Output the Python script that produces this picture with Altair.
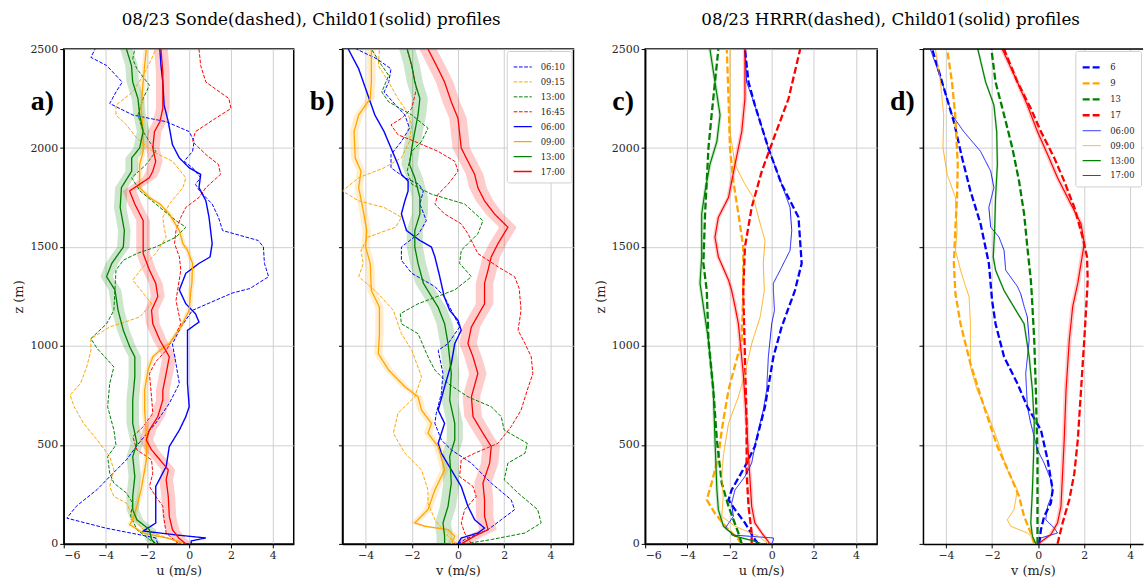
import altair as alt
import pandas as pd

SERIF = "DejaVu Serif"
Z_TICKS = [0, 500, 1000, 1500, 2000, 2500]
U_TICKS = [-6, -4, -2, 0, 2, 4]
V_TICKS = [-4, -2, 0, 2, 4]

# ---------------- panel a : u, sonde (dashed) vs Child01 (solid) ----------------
A_SONDE_0610 = [(0,-1.5),(30,-1.6),(80,-4.0),(130,-5.85),(190,-5.4),(275,-4.4),(340,-3.8),(425,-3.0),(510,-2.4),(610,-1.6),(710,-0.95),(810,-0.47),(910,-0.63),(1010,-0.8),(1095,-0.4),(1180,0.16),(1267,2.05),(1290,2.9),(1350,3.8),(1417,3.6),(1500,3.55),(1533,3.3),(1583,1.6),(1650,1.4),(1717,1.1),(1783,0.5),(1817,0.3),(1850,0.55),(1900,0.16),(1933,-0.24),(1983,0.16),(2033,0.24),(2083,0.0),(2133,-1.1),(2167,-2.7),(2225,-3.8),(2283,-3.5),(2333,-3.2),(2417,-3.95),(2458,-4.7),(2500,-4.5)]
A_SONDE_0915 = [(0,-0.5),(22,-0.8),(72,-2.2),(140,-2.7),(206,-3.0),(240,-3.6),(290,-3.8),(374,-3.6),(441,-3.8),(525,-4.4),(609,-5.05),(693,-5.5),(752,-5.7),(810,-5.2),(894,-4.9),(978,-4.7),(1037,-4.7),(1096,-3.8),(1146,-2.37),(1213,-1.8),(1267,-2.2),(1333,-2.7),(1400,-2.2),(1467,-1.6),(1550,-1.1),(1600,-1.2),(1650,-1.26),(1717,-0.95),(1800,-0.3),(1850,-0.16),(1933,-0.8),(1983,-1.75),(2050,-2.5),(2117,-3.0),(2167,-3.5),(2217,-3.5),(2283,-2.7),(2367,-2.2),(2450,-1.8),(2500,-1.6)]
A_SONDE_1300 = [(0,-1.6),(22,-1.9),(72,-2.5),(140,-2.8),(206,-2.7),(257,-3.0),(307,-3.6),(357,-3.8),(441,-3.9),(500,-3.5),(575,-3.6),(693,-3.9),(810,-3.8),(894,-3.6),(987,-4.4),(1037,-4.7),(1112,-3.95),(1180,-3.6),(1283,-3.55),(1383,-3.5),(1433,-3.15),(1467,-2.5),(1500,-1.6),(1550,-0.63),(1600,-0.16),(1633,-0.63),(1700,-1.4),(1783,-2.35),(1850,-2.75),(1917,-2.05),(1983,-1.6),(2083,-2.2),(2167,-2.45),(2250,-2.2),(2317,-1.9),(2400,-2.5),(2450,-2.7),(2500,-2.6)]
A_SONDE_1645 = [(0,-0.5),(55,-1.1),(122,-1.2),(190,-1.26),(240,-1.6),(290,-1.9),(357,-1.74),(425,-1.8),(475,-2.5),(542,-2.7),(592,-2.2),(660,-1.74),(743,-1.8),(861,-1.9),(920,-1.6),(978,-1.1),(1062,-0.63),(1112,-0.4),(1230,-0.63),(1283,-0.55),(1383,-0.4),(1450,-0.47),(1517,-0.7),(1583,-0.63),(1650,-0.4),(1700,-0.16),(1750,0.47),(1800,0.8),(1867,1.5),(1917,1.4),(1967,0.8),(2033,0.16),(2083,0.3),(2150,1.26),(2200,2.0),(2250,1.9),(2333,0.8),(2417,0.55),(2500,0.47)]
A_CHILD_0600 = [(0,0.1),(15,0.1),(30,0.8),(45,-0.6),(65,-2.2),(105,-1.6),(206,-1.6),(290,-1.6),(391,-1.1),(492,-0.95),(575,-0.47),(643,-0.16),(693,0.0),(810,-0.08),(945,-0.08),(1079,-0.08),(1121,0.47),(1163,0.3),(1213,-0.16),(1283,-0.47),(1367,-0.16),(1417,0.47),(1450,1.0),(1517,1.1),(1650,0.95),(1733,0.8),(1800,0.47),(1867,0.55),(1900,0.0),(1950,-0.47),(2017,-0.8),(2133,-1.0),(2217,-1.2),(2333,-1.26),(2417,-1.35),(2500,-1.4)]
A_CHILD_0900 = [(0,-0.3),(13,-0.5),(30,-1.1),(55,-2.2),(97,-2.84),(122,-2.7),(190,-2.5),(273,-2.3),(374,-2.13),(425,-2.05),(559,-2.05),(676,-2.13),(777,-2.13),(878,-1.97),(945,-1.74),(978,-1.4),(1012,-0.95),(1096,-0.4),(1180,0.0),(1280,0.08),(1317,0.13),(1417,0.16),(1483,-0.08),(1517,-0.3),(1583,-0.47),(1667,-0.95),(1717,-1.4),(1750,-1.9),(1800,-2.37),(1917,-2.37),(1983,-2.2),(2083,-2.2),(2200,-2.3),(2333,-2.2),(2417,-2.13),(2500,-2.05)]
A_CHILD_1300 = [(0,-1.6),(22,-1.8),(72,-1.9),(122,-2.5),(173,-2.7),(240,-2.7),(340,-2.6),(441,-2.7),(508,-2.5),(609,-2.7),(727,-2.7),(844,-2.6),(945,-2.6),(995,-2.84),(1079,-3.15),(1180,-3.4),(1283,-3.55),(1350,-3.95),(1417,-3.7),(1500,-3.15),(1583,-3.1),(1700,-3.3),(1800,-3.24),(1883,-2.75),(1950,-2.75),(2000,-2.37),(2083,-2.2),(2167,-2.37),(2250,-2.45),(2333,-2.7),(2417,-2.76),(2500,-3.0)]
A_CHILD_1700 = [(0,-0.16),(30,-0.5),(72,-0.8),(139,-0.95),(240,-1.0),(324,-1.1),(374,-1.0),(425,-1.4),(475,-1.8),(525,-2.05),(575,-1.9),(643,-1.5),(727,-1.26),(777,-1.26),(861,-1.1),(945,-0.95),(1029,-1.4),(1112,-1.74),(1180,-1.8),(1250,-1.5),(1317,-1.6),(1383,-1.9),(1467,-2.2),(1550,-2.2),(1633,-2.2),(1717,-2.6),(1783,-2.85),(1850,-1.9),(1883,-1.74),(1933,-1.6),(2000,-1.74),(2083,-1.66),(2133,-1.4),(2200,-1.26),(2283,-1.26),(2383,-1.26),(2500,-1.35)]

# ---------------- panel b : v, sonde (dashed) vs Child01 (solid) ----------------
B_SONDE_0610 = [(0,0.0),(22,0.29),(72,1.3),(122,1.87),(173,2.45),(223,2.3),(307,1.44),(408,0.58),(475,-0.29),(525,-0.72),(609,-1.0),(660,-0.94),(760,-0.72),(861,-0.65),(978,-0.86),(1012,-0.43),(1096,0.07),(1146,-0.14),(1213,-0.43),(1250,-0.6),(1300,-1.0),(1367,-2.0),(1433,-2.45),(1500,-2.45),(1567,-1.7),(1633,-1.37),(1717,-1.65),(1783,-1.5),(1817,-1.7),(1850,-2.3),(1900,-2.9),(1967,-2.9),(2033,-2.45),(2100,-2.1),(2167,-2.3),(2217,-2.7),(2283,-3.2),(2333,-3.0),(2400,-2.9),(2450,-3.5),(2500,-4.4)]
B_SONDE_0915 = [(0,-0.07),(39,-0.43),(122,-1.0),(206,-1.3),(273,-1.3),(374,-1.58),(458,-2.3),(559,-2.8),(660,-2.6),(743,-1.87),(844,-1.58),(978,-2.0),(1062,-2.45),(1180,-2.8),(1270,-3.5),(1350,-4.3),(1417,-4.1),(1483,-4.2),(1550,-3.9),(1600,-2.7),(1650,-2.45),(1700,-3.2),(1733,-4.3),(1783,-5.0),(1850,-4.3),(1900,-3.2),(1950,-2.45),(2033,-2.1),(2117,-2.0),(2183,-2.2),(2250,-2.6),(2333,-3.0),(2417,-3.45),(2500,-3.4)]
B_SONDE_1300 = [(0,0.29),(22,1.44),(55,2.9),(106,3.6),(173,3.45),(257,2.6),(324,2.0),(408,2.16),(458,2.9),(508,3.0),(575,2.0),(643,1.87),(693,1.44),(743,0.43),(810,-0.43),(878,-1.0),(945,-1.3),(1062,-1.73),(1112,-2.45),(1163,-2.5),(1213,-1.73),(1283,-0.14),(1350,0.58),(1417,0.07),(1483,0.14),(1567,0.86),(1633,1.08),(1717,0.29),(1767,-1.15),(1817,-2.0),(1883,-2.2),(1983,-2.0),(2033,-1.58),(2100,-1.3),(2167,-2.0),(2233,-3.0),(2283,-3.3),(2367,-3.0),(2417,-3.3),(2500,-3.75)]
B_SONDE_1645 = [(0,0.58),(55,0.29),(106,0.14),(173,0.29),(240,0.79),(290,0.65),(340,0.07),(425,0.14),(458,0.72),(508,1.73),(592,2.3),(676,2.73),(777,3.0),(861,3.24),(945,3.17),(1012,2.9),(1079,2.6),(1180,2.73),(1290,2.65),(1350,2.45),(1400,1.73),(1467,0.86),(1567,0.43),(1617,0.14),(1667,-0.58),(1717,-1.0),(1767,-0.86),(1817,-0.43),(1883,0.0),(1933,-0.14),(1983,-0.86),(2033,-1.87),(2067,-2.6),(2117,-2.9),(2150,-2.45),(2200,-2.0),(2300,-1.8),(2383,-1.94),(2500,-2.2)]
B_CHILD_0600 = [(0,0.0),(30,0.14),(55,0.86),(80,1.15),(122,0.72),(190,0.43),(290,0.14),(374,-0.29),(458,-0.72),(508,-0.86),(609,-0.58),(676,-0.86),(794,-0.58),(911,-0.29),(1012,-0.14),(1079,0.14),(1129,0.0),(1180,-0.36),(1250,-0.6),(1350,-0.79),(1450,-1.0),(1500,-1.15),(1533,-1.65),(1583,-2.23),(1667,-2.45),(1733,-2.3),(1783,-2.16),(1833,-2.16),(1867,-2.45),(1917,-2.6),(2000,-2.9),(2083,-3.2),(2167,-3.6),(2267,-3.9),(2400,-4.3),(2500,-4.75)]
B_CHILD_0900 = [(0,-0.29),(39,-0.14),(72,-0.43),(89,-1.44),(106,-1.87),(173,-1.3),(273,-1.0),(374,-0.58),(492,-0.86),(559,-1.3),(609,-1.15),(676,-1.58),(743,-1.73),(794,-2.3),(878,-3.0),(961,-3.45),(1062,-3.4),(1196,-3.4),(1280,-3.75),(1417,-3.8),(1500,-4.0),(1583,-3.95),(1683,-4.1),(1800,-4.3),(1883,-4.2),(1950,-4.45),(2083,-4.5),(2167,-4.3),(2250,-3.8),(2333,-3.75),(2500,-3.75)]
B_CHILD_1300 = [(0,-0.58),(39,-0.58),(106,-0.65),(190,-0.43),(307,-0.29),(441,-0.36),(525,-0.14),(609,-0.14),(727,-0.36),(861,-0.29),(1012,-0.43),(1112,-0.58),(1196,-0.86),(1250,-1.15),(1317,-1.5),(1417,-1.73),(1500,-1.87),(1583,-1.87),(1667,-1.65),(1750,-1.65),(1850,-1.87),(1917,-2.1),(2000,-2.0),(2083,-1.87),(2167,-1.73),(2250,-1.65),(2333,-1.87),(2417,-2.0),(2500,-2.2)]
B_CHILD_1700 = [(0,0.14),(39,0.72),(72,1.3),(139,1.15),(223,1.15),(307,1.08),(408,1.37),(492,1.44),(559,1.08),(643,0.65),(743,0.58),(861,0.86),(945,0.65),(1012,0.43),(1096,0.58),(1213,1.15),(1317,1.15),(1383,1.3),(1450,1.44),(1517,1.73),(1600,2.16),(1667,1.58),(1733,1.15),(1800,0.86),(1867,0.72),(1933,0.43),(2000,0.14),(2150,0.0),(2233,-0.29),(2333,-0.58),(2400,-0.86),(2500,-1.3)]

# ---------------- panel c : u, HRRR (dashed) vs Child01 (solid) ----------------
C_HRRR_6 = [(0,-0.63),(22,-0.8),(106,-1.27),(173,-1.74),(223,-2.05),(273,-1.9),(391,-1.27),(492,-0.8),(693,-0.32),(945,0.08),(1096,0.47),(1280,1.1),(1417,1.42),(1650,1.27),(1817,0.47),(2000,-0.16),(2217,-0.8),(2333,-1.1),(2500,-1.27)]
C_HRRR_9 = [(0,-1.42),(22,-1.58),(89,-2.2),(156,-2.7),(223,-3.08),(307,-2.85),(441,-2.53),(575,-2.37),(777,-2.05),(1029,-1.42),(1280,-1.35),(1500,-1.35),(1667,-1.58),(1833,-1.82),(2000,-1.98),(2250,-2.05),(2500,-2.13)]
C_HRRR_13 = [(0,-1.42),(55,-1.58),(190,-2.05),(307,-2.37),(525,-2.6),(777,-2.77),(1029,-3.0),(1280,-3.08),(1417,-3.24),(1667,-3.16),(1833,-3.08),(2000,-3.0),(2167,-2.85),(2333,-2.69),(2500,-2.53)]
C_HRRR_17 = [(0,-0.95),(55,-0.95),(190,-1.1),(357,-1.19),(609,-1.19),(945,-1.27),(1280,-1.35),(1500,-1.27),(1700,-0.95),(1883,-0.47),(2067,0.16),(2250,0.8),(2500,1.35)]
C_CHILD_0600 = [(0,0.0),(20,0.08),(30,0.08),(45,-1.9),(55,-1.9),(80,-2.2),(139,-1.82),(206,-1.9),(273,-1.74),(340,-1.27),(408,-0.95),(542,-0.71),(676,-0.4),(777,-0.24),(945,-0.16),(1112,0.0),(1180,0.13),(1280,0.08),(1317,0.08),(1383,0.4),(1483,0.87),(1583,0.95),(1700,0.87),(1817,0.47),(2000,-0.16),(2217,-0.8),(2333,-1.19),(2500,-1.27)]
C_CHILD_0900 = [(0,-0.16),(39,-0.63),(89,-1.74),(139,-2.37),(240,-2.3),(340,-2.37),(441,-2.3),(609,-2.05),(743,-1.58),(861,-1.27),(1012,-0.95),(1146,-0.55),(1280,-0.35),(1417,-0.4),(1533,-0.32),(1650,-0.63),(1750,-0.87),(1817,-1.27),(1917,-1.74),(2083,-1.98),(2500,-1.98)]
C_CHILD_1300 = [(0,-0.47),(13,-0.8),(39,-1.74),(89,-2.29),(173,-2.53),(273,-2.6),(525,-2.69),(777,-2.77),(1029,-3.0),(1200,-3.24),(1317,-3.4),(1450,-3.32),(1667,-3.32),(1783,-3.16),(1917,-2.93),(2033,-2.6),(2167,-2.45),(2333,-2.69),(2500,-2.93)]
C_CHILD_1700 = [(0,-0.08),(55,-0.47),(106,-0.8),(190,-0.95),(441,-1.1),(609,-1.19),(861,-1.35),(1112,-1.58),(1200,-1.74),(1280,-1.9),(1333,-2.05),(1450,-2.53),(1550,-2.69),(1650,-2.53),(1750,-2.05),(1917,-1.74),(2083,-1.42),(2250,-1.27),(2500,-1.27)]

# ---------------- panel d : v, HRRR (dashed) vs Child01 (solid) ----------------
D_HRRR_6 = [(0,0.04),(72,0.12),(139,0.26),(206,0.55),(273,0.63),(425,0.41),(575,0.12),(693,-0.47),(810,-0.9),(945,-1.48),(1112,-1.85),(1230,-2.0),(1417,-2.14),(1617,-2.5),(1783,-2.94),(1950,-3.3),(2133,-3.66),(2333,-4.17),(2500,-4.6)]
D_HRRR_9 = [(0,-0.17),(55,-0.32),(139,-0.61),(240,-0.83),(340,-1.19),(492,-1.77),(693,-2.35),(911,-2.94),(1112,-3.37),(1264,-3.59),(1417,-3.66),(1583,-3.6),(1750,-3.52),(1917,-3.49),(2167,-3.6),(2333,-3.74),(2500,-3.95)]
D_HRRR_13 = [(0,-0.03),(190,-0.03),(441,-0.03),(777,-0.1),(1029,-0.17),(1264,-0.28),(1333,-0.32),(1500,-0.47),(1667,-0.61),(1833,-0.83),(2000,-1.12),(2167,-1.48),(2333,-1.85),(2500,-2.03)]
D_HRRR_17 = [(0,0.84),(106,1.06),(223,1.35),(357,1.57),(525,1.72),(777,1.86),(1029,2.0),(1264,2.12),(1333,2.15),(1450,2.12),(1550,1.93),(1700,1.57),(1833,1.13),(1950,0.7),(2083,0.12),(2200,-0.32),(2333,-0.9),(2500,-1.48)]
D_CHILD_0600 = [(0,0.0),(30,0.12),(55,0.84),(80,0.7),(122,0.33),(190,0.41),(257,0.63),(324,0.55),(408,0.26),(475,-0.03),(609,-0.32),(693,-0.47),(861,-0.54),(1029,-0.39),(1146,-0.47),(1200,-0.61),(1264,-0.76),(1300,-0.9),(1383,-1.41),(1483,-1.48),(1550,-1.7),(1600,-2.06),(1700,-2.14),(1800,-1.92),(1883,-2.06),(1983,-2.5),(2083,-3.23),(2167,-3.74),(2333,-4.17),(2500,-4.68)]
D_CHILD_0900 = [(0,-0.1),(22,-0.17),(55,-0.47),(89,-1.19),(122,-1.34),(173,-1.05),(273,-0.9),(374,-1.34),(525,-1.77),(660,-2.2),(777,-2.65),(894,-2.94),(1112,-2.94),(1250,-3.0),(1300,-3.15),(1383,-3.37),(1483,-3.59),(1583,-3.52),(1750,-3.59),(1867,-3.95),(2000,-4.13),(2167,-4.1),(2333,-4.24),(2500,-4.46)]
D_CHILD_1300 = [(0,-0.1),(39,-0.25),(106,-0.32),(273,-0.25),(441,-0.2),(609,-0.17),(777,-0.25),(945,-0.39),(1112,-0.61),(1196,-1.05),(1280,-1.48),(1383,-1.85),(1450,-1.95),(1583,-1.89),(1750,-1.85),(1917,-1.77),(2083,-1.8),(2217,-1.92),(2333,-2.28),(2500,-2.62)]
D_CHILD_1700 = [(0,0.0),(47,0.55),(106,0.84),(190,0.99),(357,1.06),(525,1.13),(777,1.21),(1029,1.35),(1200,1.5),(1317,1.72),(1417,1.86),(1517,2.0),(1617,1.86),(1717,1.42),(1850,0.84),(1967,0.41),(2083,-0.03),(2217,-0.47),(2333,-0.9),(2500,-1.56)]

# ---------------- series keys / styles ----------------
SONDE_KEYS = ["S_06:10", "S_09:15", "S_13:00", "S_16:45", "C_06:00", "C_09:00", "C_13:00", "C_17:00"]
HRRR_KEYS = ["H_6", "H_9", "H_13", "H_17", "C_06:00", "C_09:00", "C_13:00", "C_17:00"]
COLORS = ["#0000ff", "#ffa500", "#008000", "#ff0000", "#0000ff", "#ffa500", "#008000", "#ff0000"]
CHILD_COLOR = {"C_06:00": "#0000ff", "C_09:00": "#ffa500", "C_13:00": "#008000", "C_17:00": "#ff0000"}
THIN_DASH = [3.7, 1.6]
THICK_DASH = [7.0, 3.0]
SOLID = [1, 0]
SONDE_DASHES = [THIN_DASH] * 4 + [SOLID] * 4
HRRR_DASHES = [THICK_DASH] * 4 + [SOLID] * 4
SONDE_WIDTHS = [1.0, 1.0, 1.0, 1.0, 1.3, 1.3, 1.3, 1.3]
HRRR_WIDTHS = [2.3, 2.3, 2.3, 2.3, 0.9, 0.9, 1.2, 1.2]

# half-width of the shaded spread around the Child01 means
A_SPREAD = {"C_06:00": 0.04, "C_09:00": 0.13, "C_13:00": 0.3, "C_17:00": 0.33}
B_SPREAD = {"C_06:00": 0.04, "C_09:00": 0.18, "C_13:00": 0.35, "C_17:00": 0.38}
C_SPREAD = {"C_13:00": 0.08, "C_17:00": 0.1}
D_SPREAD = {"C_13:00": 0.05, "C_17:00": 0.1}


def long_df(series):
    rows = []
    for key, pts in series.items():
        for z, x in pts:
            rows.append({"key": key, "z": z, "val": x})
    return pd.DataFrame(rows)


def one_band_df(pts, hw):
    return pd.DataFrame({"z": [p[0] for p in pts],
                         "lo": [p[1] - hw for p in pts],
                         "hi": [p[1] + hw for p in pts]})


def axis(values, title, labels=True):
    kw = dict(values=values, labels=labels, format="d",
              labelFont=SERIF, labelFontSize=11, labelColor="#262626",
              titleFont=SERIF, titleFontSize=13, titleFontWeight="normal", titleColor="#262626",
              grid=True, gridColor="#c4c4c4", gridWidth=0.8,
              domainColor="black", domainWidth=1.5, tickColor="black", tickSize=4,
              labelPadding=2, titlePadding=4)
    kw["title"] = title if title else None
    return alt.Axis(**kw)


def legend():
    return alt.Legend(title=None, orient="top-right", labelExpr="slice(datum.label, 2)",
                      fillColor="white", strokeColor="#d0d0d0", padding=6, cornerRadius=2,
                      labelFont=SERIF, labelFontSize=8.5, labelColor="#262626", symbolSize=330,
                      rowPadding=-1, labelOffset=8, offset=2)


def panel(series, keys, dashes, widths, spread, xdomain, xticks, xtitle,
          ylabels, label, show_legend, width, open_right=False):
    yscale = alt.Scale(domain=[0, 2500], nice=False, zero=False)
    xscale = alt.Scale(domain=xdomain, nice=False, zero=False)
    yaxis = axis(Z_TICKS, "z (m)" if ylabels else None, labels=ylabels)
    xaxis = axis(xticks, xtitle)
    cscale = alt.Scale(domain=keys, range=COLORS)
    dscale = alt.Scale(domain=keys, range=dashes)
    wscale = alt.Scale(type="ordinal", domain=keys, range=widths)
    if show_legend:
        color = alt.Color("key:N", scale=cscale, legend=legend())
        dash = alt.StrokeDash("key:N", scale=dscale, legend=legend())
        sw = alt.StrokeWidth("key:N", scale=wscale, legend=legend())
    else:
        color = alt.Color("key:N", scale=cscale, legend=None)
        dash = alt.StrokeDash("key:N", scale=dscale, legend=None)
        sw = alt.StrokeWidth("key:N", scale=wscale, legend=None)

    layers = []
    # shaded spread of each Child01 profile (constant colour per layer, no legend channel)
    for key, hw in spread.items():
        layers.append(
            alt.Chart(one_band_df(series[key], hw)).mark_area(
                orient="horizontal", color=CHILD_COLOR[key], opacity=0.2, clip=True
            ).encode(
                y=alt.Y("z:Q", scale=yscale, axis=yaxis),
                x=alt.X("lo:Q", scale=xscale, axis=xaxis),
                x2=alt.X2("hi"),
            )
        )
    layers.append(alt.Chart(long_df(series)).mark_line(clip=True).encode(
        y=alt.Y("z:Q", scale=yscale, axis=yaxis),
        x=alt.X("val:Q", scale=xscale, axis=xaxis),
        color=color,
        strokeDash=dash,
        strokeWidth=sw,
        order=alt.Order("z:Q"),
    ))
    layers.append(alt.Chart(pd.DataFrame({"t": [label]})).mark_text(
        font="Liberation Serif", fontWeight="bold", fontSize=28,
        align="left", baseline="alphabetic", color="black"
    ).encode(x=alt.value(-33), y=alt.value(61), text="t:N"))
    props = dict(width=width, height=497)
    if open_right:
        layers.append(alt.Chart(pd.DataFrame({"z": [2500]})).mark_rule(
            color="black", strokeWidth=1.5).encode(y=alt.Y("z:Q", scale=yscale, axis=yaxis)))
        props["view"] = alt.ViewBackground(stroke=None)
    return alt.layer(*layers).properties(**props)


pa = panel({"S_06:10": A_SONDE_0610, "S_09:15": A_SONDE_0915, "S_13:00": A_SONDE_1300, "S_16:45": A_SONDE_1645,
            "C_06:00": A_CHILD_0600, "C_09:00": A_CHILD_0900, "C_13:00": A_CHILD_1300, "C_17:00": A_CHILD_1700},
           SONDE_KEYS, SONDE_DASHES, SONDE_WIDTHS, A_SPREAD, [-6, 5], U_TICKS, "u (m/s)", True, "a)", False, 231)
pb = panel({"S_06:10": B_SONDE_0610, "S_09:15": B_SONDE_0915, "S_13:00": B_SONDE_1300, "S_16:45": B_SONDE_1645,
            "C_06:00": B_CHILD_0600, "C_09:00": B_CHILD_0900, "C_13:00": B_CHILD_1300, "C_17:00": B_CHILD_1700},
           SONDE_KEYS, SONDE_DASHES, SONDE_WIDTHS, B_SPREAD, [-5, 5], V_TICKS, "v (m/s)", False, "b)", True, 232)
pc = panel({"H_6": C_HRRR_6, "H_9": C_HRRR_9, "H_13": C_HRRR_13, "H_17": C_HRRR_17,
            "C_06:00": C_CHILD_0600, "C_09:00": C_CHILD_0900, "C_13:00": C_CHILD_1300, "C_17:00": C_CHILD_1700},
           HRRR_KEYS, HRRR_DASHES, HRRR_WIDTHS, C_SPREAD, [-6, 5], U_TICKS, "u (m/s)", True, "c)", False, 233)
pd_ = panel({"H_6": D_HRRR_6, "H_9": D_HRRR_9, "H_13": D_HRRR_13, "H_17": D_HRRR_17,
             "C_06:00": D_CHILD_0600, "C_09:00": D_CHILD_0900, "C_13:00": D_CHILD_1300, "C_17:00": D_CHILD_1700},
            HRRR_KEYS, HRRR_DASHES, HRRR_WIDTHS, D_SPREAD, [-5, 4.55], V_TICKS, "v (m/s)", False, "d)", True, 221,
            open_right=True)

RES = dict(color="independent", strokeDash="independent", strokeWidth="independent")

left = alt.hconcat(pa, pb, spacing=14, title=alt.TitleParams(
    "08/23 Sonde(dashed), Child01(solid) profiles", anchor="middle", dx=18, offset=14,
    font=SERIF, fontSize=16.8, fontWeight="normal", color="black")
).resolve_scale(**RES).resolve_legend(**RES)
right = alt.hconcat(pc, pd_, spacing=12, title=alt.TitleParams(
    "08/23 HRRR(dashed), Child01(solid) profiles", anchor="middle", dx=22, offset=14,
    font=SERIF, fontSize=16.8, fontWeight="normal", color="black")
).resolve_scale(**RES).resolve_legend(**RES)

chart = alt.hconcat(left, right, spacing=19).resolve_scale(**RES).resolve_legend(**RES).properties(
    padding={"left": 12, "top": 10, "right": 0, "bottom": 0}
).configure_view(
    stroke="black", strokeWidth=1.5
)

chart.save("out.html", embed_options={"renderer": "svg", "actions": False})
